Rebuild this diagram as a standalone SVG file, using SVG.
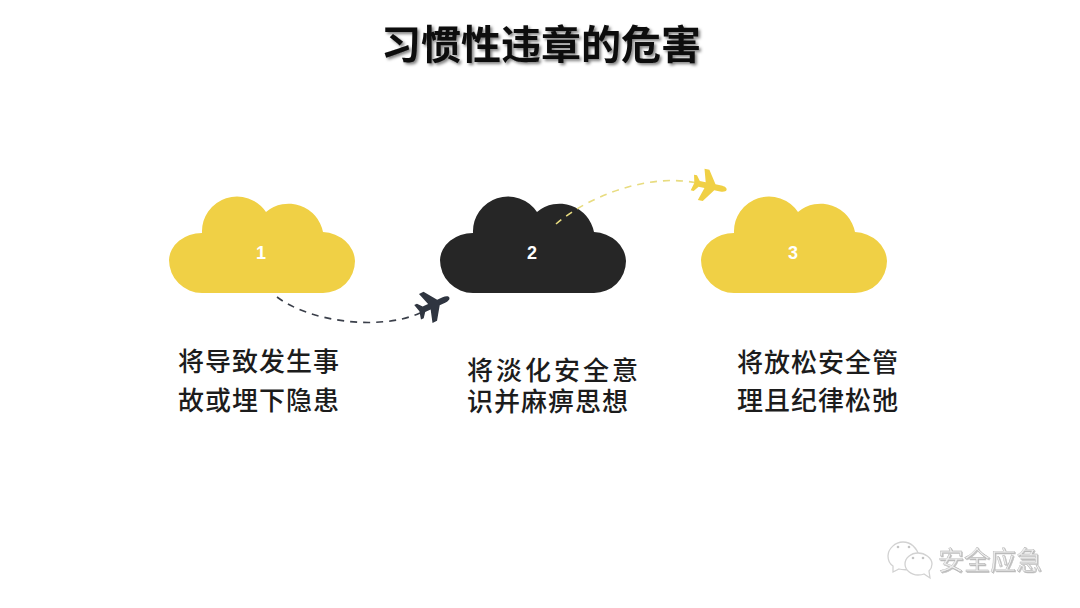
<svg xmlns="http://www.w3.org/2000/svg" width="1080" height="608" viewBox="0 0 1080 608">
<style>
text{font-family:"Noto Sans CJK SC","Liberation Sans",sans-serif}
.title{font-size:40px;font-weight:700;fill:#0a0a0a;filter:url(#shadow)}
.body{font-size:26px;font-weight:500;fill:#1c1c1c;letter-spacing:1px}
.num{font-family:"Liberation Sans",Arial,sans-serif;font-size:18px;font-weight:700;fill:#fff;text-anchor:middle}
.yellow{fill:#f0d045}
.dark{fill:#262626}
.dash{fill:none;stroke-width:1.6;stroke-dasharray:7 6}
.wm{font-size:26px;fill:#ececec;stroke:#a8a8a8;stroke-width:.35;filter:url(#emboss)}
.bubble{fill:#fff;stroke:#d2d2d2;stroke-width:1.3}
.dot{fill:#c4c4c4}
</style>
<defs>
<filter id="shadow" x="-5%" y="-20%" width="110%" height="140%"><feDropShadow dx="2" dy="2" stdDeviation="1.5" flood-color="#000" flood-opacity=".5"/></filter>
<filter id="emboss" x="-5%" y="-10%" width="110%" height="120%"><feDropShadow dx="1" dy="1" stdDeviation=".6" flood-color="#999" flood-opacity=".6"/></filter>
<path id="cloud" d="M202 293A33 33 0 0 1 169 260A33 28 0 0 1 202 233A35 35 0 0 1 266 212A35 35 0 0 1 323 232A34 30 0 0 1 355 261A32 32 0 0 1 323 293Z"/>
<path id="plane" d="M18 0C18-2 15-3 12-3L6-3L-3-16L-8-16L-4-3L-10-3L-14-8L-17-8L-15 0L-17 8L-14 8L-10 3L-4 3L-8 16L-3 16L6 3L12 3C15 3 18 2 18 0Z"/>
</defs>
<rect width="1080" height="608" fill="#fff"/>
<text id="title" class="title" x="381" y="59">习惯性违章的危害</text>
<g id="node-1"><use href="#cloud" class="yellow"/><text class="num" x="261" y="259">1</text></g>
<g id="node-2"><use href="#cloud" class="dark" x="271"/><text class="num" x="532" y="259">2</text></g>
<g id="node-3"><use href="#cloud" class="yellow" x="532"/><text class="num" x="793" y="259">3</text></g>
<g id="connectors">
<path class="dash" stroke="#3a3f4a" d="M277 297C310 322 380 331 420 313"/>
<path class="dash" stroke="#e8dc80" d="M556 224C590 195 650 173 697 183"/>
</g>
<g id="plane-1"><use href="#plane" fill="#2f3540" transform="translate(433 305) rotate(-25)"/></g>
<g id="plane-2"><use href="#plane" fill="#f0d045" transform="translate(709 186) rotate(12)"/></g>
<g id="label-1"><text class="body" x="178" y="371">将导致发生事</text><text class="body" x="178" y="410">故或埋下隐患</text></g>
<g id="label-2"><text class="body" x="467" y="380" style="letter-spacing:3px">将淡化安全意</text><text class="body" x="467" y="411">识并麻痹思想</text></g>
<g id="label-3"><text class="body" x="737" y="372">将放松安全管</text><text class="body" x="737" y="410">理且纪律松弛</text></g>
<g id="watermark">
<path class="bubble" d="M903 542C895 542 888 549 888 556C888 560 890 564 893 566L893 572L899 569C902 570 909 570 912 569C918 566 920 561 919 556C917 548 911 542 903 542Z"/>
<path class="bubble" d="M918 553C911 553 905 558 905 564C905 570 911 575 918 575C920 575 922 575 924 574L930 578L929 571C931 569 932 567 932 564C932 558 925 553 918 553Z"/>
<circle class="dot" cx="898" cy="547" r="1.3"/><circle class="dot" cx="909" cy="547" r="1.3"/>
<circle class="dot" cx="913" cy="558" r="1.3"/><circle class="dot" cx="923" cy="558" r="1.3"/>
<text class="wm" x="938" y="570">安全应急</text>
</g>
</svg>
